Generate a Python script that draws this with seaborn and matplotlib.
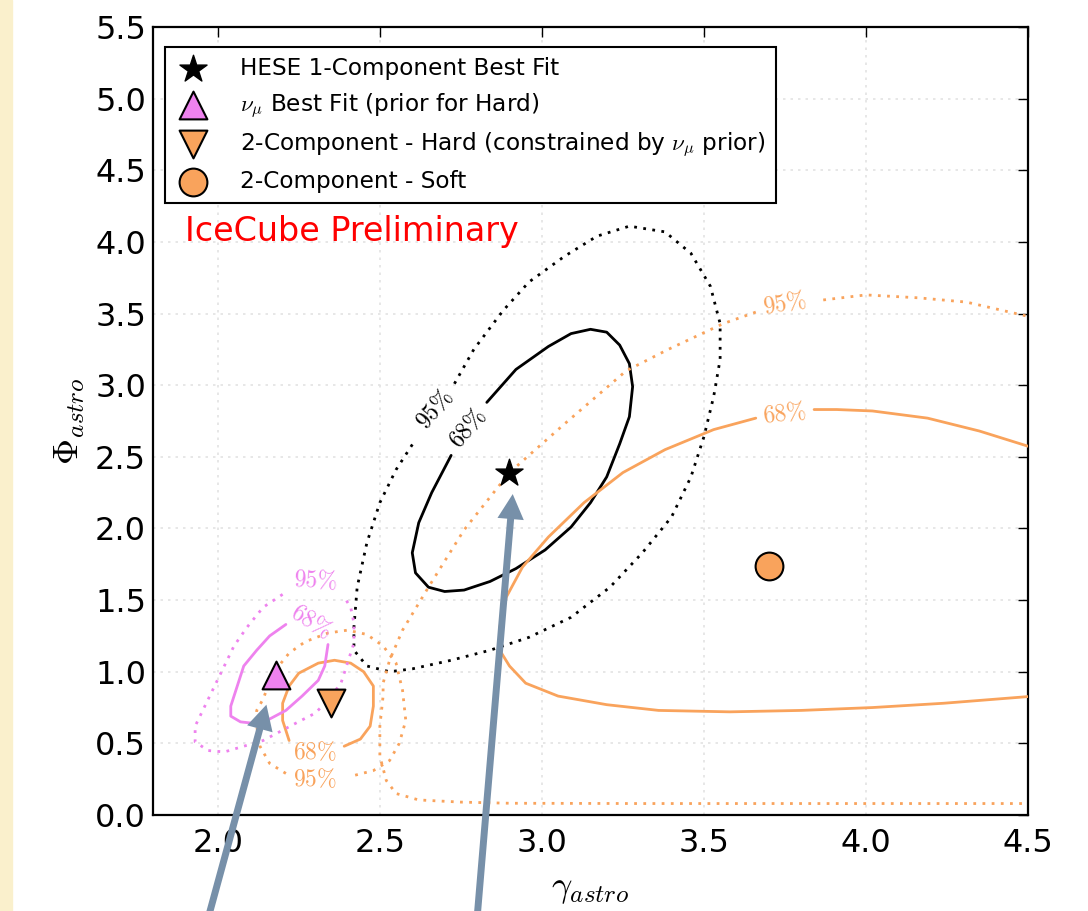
import matplotlib
matplotlib.use("Agg")
import matplotlib.pyplot as plt
import seaborn as sns
from matplotlib.patches import Rectangle

# best fit points
hese_best = (2.90, 2.39)
numu_best = (2.18, 0.98)
hard_best = (2.35, 0.78)
soft_best = (3.70, 1.74)

# contours (gaps left where the labels sit)
hese68_x = [2.83, 2.92, 3.02, 3.09, 3.15, 3.20, 3.24, 3.27, 3.28, 3.27, 3.24, 3.20, 3.15, 3.09,
            3.01, 2.92, 2.84, 2.76, 2.70, 2.65, 2.61, 2.60, 2.62, 2.66, 2.72]
hese68_y = [2.88, 3.11, 3.27, 3.36, 3.39, 3.37, 3.28, 3.15, 2.99, 2.78, 2.59, 2.36, 2.18, 2.01,
            1.85, 1.72, 1.63, 1.57, 1.56, 1.59, 1.69, 1.83, 2.04, 2.25, 2.51]

hese95_x = [2.73, 2.79, 2.88, 2.96, 3.07, 3.17, 3.27, 3.38, 3.46, 3.52, 3.55, 3.55, 3.53, 3.50,
            3.46, 3.40, 3.31, 3.21, 3.09, 2.96, 2.84, 2.72, 2.60, 2.53, 2.46, 2.42, 2.42, 2.43,
            2.46, 2.50, 2.55, 2.61]
hese95_y = [3.01, 3.25, 3.52, 3.72, 3.90, 4.04, 4.11, 4.07, 3.92, 3.69, 3.43, 3.18, 2.92, 2.64,
            2.36, 2.08, 1.83, 1.59, 1.38, 1.24, 1.15, 1.08, 1.02, 1.00, 1.04, 1.15, 1.31, 1.59,
            1.90, 2.18, 2.41, 2.62]

soft68a_x = [4.52, 4.35, 4.19, 4.02, 3.91, 3.84]
soft68a_y = [2.56, 2.68, 2.77, 2.82, 2.83, 2.83]
soft68b_x = [3.66, 3.53, 3.38, 3.25, 3.13, 3.02, 2.94, 2.89, 2.87, 2.87, 2.90, 2.95, 3.05, 3.20,
             3.36, 3.58, 3.80, 4.02, 4.24, 4.52]
soft68b_y = [2.77, 2.69, 2.55, 2.39, 2.18, 1.94, 1.73, 1.52, 1.31, 1.15, 1.04, 0.92, 0.83, 0.77,
             0.73, 0.72, 0.73, 0.75, 0.78, 0.83]

soft95a_x = [4.52, 4.31, 4.16, 4.00, 3.85]
soft95a_y = [3.47, 3.58, 3.61, 3.63, 3.59]
soft95b_x = [3.66, 3.56, 3.39, 3.26, 3.07, 2.90, 2.76, 2.65, 2.57, 2.53, 2.51, 2.51, 2.50, 2.50,
             2.52, 2.55, 2.62, 2.75, 2.90, 3.30, 3.80, 4.52]
soft95b_y = [3.51, 3.43, 3.25, 3.10, 2.73, 2.39, 1.99, 1.59, 1.29, 1.08, 0.92, 0.83, 0.62, 0.41,
             0.24, 0.15, 0.105, 0.09, 0.082, 0.08, 0.08, 0.08]

hard68_x = [2.22, 2.20, 2.20, 2.22, 2.25, 2.31, 2.36, 2.41, 2.45, 2.48, 2.48, 2.47, 2.44, 2.39]
hard68_y = [0.52, 0.66, 0.78, 0.90, 0.99, 1.06, 1.08, 1.06, 1.00, 0.90, 0.76, 0.62, 0.53, 0.48]

hard95_x = [2.21, 2.16, 2.13, 2.12, 2.12, 2.14, 2.17, 2.22, 2.27, 2.34, 2.40, 2.46, 2.51, 2.55,
            2.57, 2.58, 2.56, 2.53, 2.48, 2.41]
hard95_y = [0.29, 0.36, 0.48, 0.62, 0.73, 0.81, 0.99, 1.13, 1.21, 1.27, 1.29, 1.26, 1.18, 1.06,
            0.87, 0.66, 0.50, 0.38, 0.31, 0.27]

numu68_x = [2.21, 2.16, 2.12, 2.08, 2.06, 2.04, 2.04, 2.07, 2.11, 2.16, 2.21, 2.26, 2.31, 2.33, 2.34]
numu68_y = [1.33, 1.25, 1.15, 1.04, 0.90, 0.76, 0.69, 0.65, 0.64, 0.67, 0.73, 0.83, 0.94, 1.04, 1.19]

numu95_x = [2.20, 2.14, 2.09, 2.05, 2.02, 1.99, 1.96, 1.93, 1.93, 1.97, 2.02, 2.08, 2.14, 2.19,
            2.24, 2.30, 2.34, 2.38, 2.40, 2.42, 2.42, 2.41, 2.39]
numu95_y = [1.54, 1.45, 1.31, 1.18, 1.04, 0.90, 0.76, 0.62, 0.51, 0.45, 0.44, 0.48, 0.52, 0.58,
            0.64, 0.71, 0.80, 0.92, 1.06, 1.20, 1.34, 1.45, 1.52]

# contour labels: x, y, text, rotation, group
lab_x = [2.77, 2.67, 3.75, 3.75, 2.30, 2.30, 2.29, 2.30]
lab_y = [2.70, 2.83, 2.80, 3.57, 0.44, 0.25, 1.35, 1.64]
lab_txt = ["68%", "95%", "68%", "95%", "68%", "95%", "68%", "95%"]
lab_rot = [50, 50, 7, 10, 0, 0, -32, -3]
lab_grp = ["hese", "hese", "soft", "soft", "hard", "hard", "numu", "numu"]

# arrows (tail below the axes, tip on the best fits)
arrow_tail = [(1.97, -0.72), (2.80, -0.72)]
arrow_tip = [(2.15, 0.77), (2.91, 2.24)]

orange = "#F9A35C"
pink = "#EE82EE"
arrow_col = "#7790A9"
colors = {"hese": "black", "soft": orange, "hard": orange, "numu": pink}

sns.set_style("white")
plt.rcParams["font.family"] = ["DejaVu Sans"]
plt.rcParams["mathtext.fontset"] = "cm"
for k in ["text.color", "axes.labelcolor", "xtick.color", "ytick.color"]:
    plt.rcParams[k] = "black"

fig = plt.figure(figsize=(10.88, 9.11), dpi=100)
fig.patches.append(Rectangle((0, 0), 12 / 1088, 1, transform=fig.transFigure,
                             color="#FAF0CC", zorder=-10))
ax = fig.add_axes([153 / 1088, 96 / 911, 875 / 1088, 788 / 911])

solid = "-"
dotted = (0, (1, 2.3))


def contour(xs, ys, color, ls):
    ax.plot(xs, ys, color=color, linestyle=ls, linewidth=2.0, zorder=3)


contour(hese68_x, hese68_y, "black", solid)
contour(hese95_x, hese95_y, "black", dotted)
contour(soft68a_x, soft68a_y, orange, solid)
contour(soft68b_x, soft68b_y, orange, solid)
contour(soft95a_x, soft95a_y, orange, dotted)
contour(soft95b_x, soft95b_y, orange, dotted)
contour(hard68_x, hard68_y, orange, solid)
contour(hard95_x, hard95_y, orange, dotted)
contour(numu68_x, numu68_y, pink, solid)
contour(numu95_x, numu95_y, pink, dotted)

for x, y, t, r, g in zip(lab_x, lab_y, lab_txt, lab_rot, lab_grp):
    ax.text(x, y, "$" + t.replace("%", r"\%") + "$", rotation=r, color=colors[g],
            fontsize=17, ha="center", va="center", zorder=4)

sns.scatterplot(x=[hese_best[0]], y=[hese_best[1]], marker="*", s=420, color="black",
                edgecolor="black", linewidth=1, label="HESE 1-Component Best Fit", ax=ax, zorder=5)
sns.scatterplot(x=[numu_best[0]], y=[numu_best[1]], marker="^", s=400, color=pink,
                edgecolor="black", linewidth=1.5, label=r"$\nu_\mu$ Best Fit (prior for Hard)",
                ax=ax, zorder=5)
sns.scatterplot(x=[hard_best[0]], y=[hard_best[1]], marker="v", s=400, color=orange,
                edgecolor="black", linewidth=1.5,
                label=r"2-Component - Hard (constrained by $\nu_\mu$ prior)", ax=ax, zorder=5)
sns.scatterplot(x=[soft_best[0]], y=[soft_best[1]], marker="o", s=400, color=orange,
                edgecolor="black", linewidth=1.5, label="2-Component - Soft", ax=ax, zorder=5)

for tail, tip in zip(arrow_tail, arrow_tip):
    ax.annotate("", xy=tip, xytext=tail, annotation_clip=False, zorder=6,
                arrowprops=dict(facecolor=arrow_col, edgecolor="none", width=5,
                                headwidth=19, headlength=18, shrink=0))

ax.text(0.037, 0.74, "IceCube Preliminary", color="red", fontsize=24,
        transform=ax.transAxes, va="center", ha="left")

ax.set_xlim(1.8, 4.5)
ax.set_ylim(0, 5.5)
ax.set_xticks([2.0, 2.5, 3.0, 3.5, 4.0, 4.5])
ax.set_yticks([0.0, 0.5, 1.0, 1.5, 2.0, 2.5, 3.0, 3.5, 4.0, 4.5, 5.0, 5.5])
ax.set_xticklabels(["2.0", "2.5", "3.0", "3.5", "4.0", "4.5"])
ax.set_yticklabels(["0.0", "0.5", "1.0", "1.5", "2.0", "2.5", "3.0", "3.5", "4.0", "4.5",
                    "5.0", "5.5"])
ax.grid(True, color="#e3e3e3", linestyle=(0, (1.5, 3)), linewidth=1.2, zorder=0)
ax.set_axisbelow(True)
ax.tick_params(direction="in", length=7, width=1, top=True, right=True, labelsize=23,
               color="black")
ax.tick_params(axis="x", pad=9)
ax.tick_params(axis="y", pad=5)
for sp in ax.spines.values():
    sp.set_color("black")
    sp.set_linewidth(1.6)

ax.set_xlabel(r"$\gamma_{astro}$", fontsize=26, labelpad=10)
ax.set_ylabel(r"$\Phi_{astro}$", fontsize=26, labelpad=6)

leg = ax.legend(loc="upper left", bbox_to_anchor=(0.0137, 0.9746), borderaxespad=0,
                fontsize=16.7, frameon=True, fancybox=False, framealpha=1,
                labelspacing=0.47, handletextpad=1.3, borderpad=0.45, handlelength=1.5)
leg.get_frame().set_edgecolor("black")
leg.get_frame().set_linewidth(1.5)

fig.savefig("out.png", dpi=100, facecolor="white")
